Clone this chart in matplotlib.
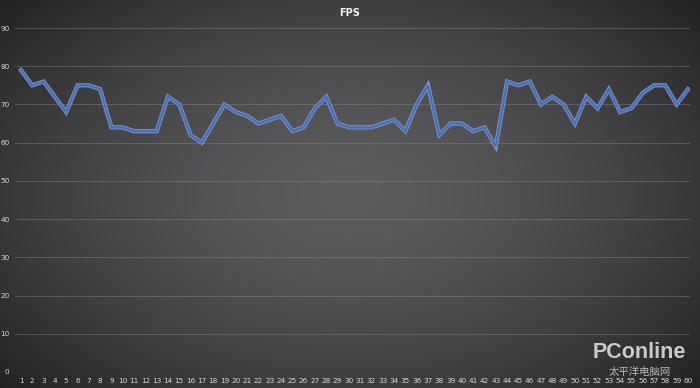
import numpy as np
import matplotlib.pyplot as plt
import matplotlib.patheffects as pe

# Données FPS relevées sur 60 secondes
seconds = list(range(1, 61))
fps = [79, 75, 76, 72, 68, 75, 75, 74, 64, 64,
       63, 63, 63, 72, 70, 62, 60, 65, 70, 68,
       67, 65, 66, 67, 63, 64, 69, 72, 65, 64,
       64, 64, 65, 66, 63, 70, 75, 62, 65, 65,
       63, 64, 59, 76, 75, 76, 70, 72, 70, 65,
       72, 69, 74, 68, 69, 73, 75, 75, 70, 74]
y_ticks = list(range(0, 100, 10))

plt.rcParams['font.family'] = ['DejaVu Sans', 'Noto Sans CJK SC']

fig = plt.figure(figsize=(7, 3.88), dpi=100)

# fond dégradé radial (plus clair au centre)
bg = fig.add_axes([0, 0, 1, 1])
gx, gy = np.meshgrid(np.linspace(-1, 1, 700), np.linspace(-1, 1, 388))
r = np.sqrt((gx * 0.95) ** 2 + (gy * 0.85) ** 2)
shade = 0.365 - 0.16 * np.clip(r, 0, 1.3) ** 1.5
bg.imshow(np.dstack([shade, shade, shade * 1.02]), aspect='auto', extent=[0, 1, 0, 1])
bg.set_axis_off()

ax = fig.add_axes([15 / 700, 1 - 372 / 388, 675 / 700, 344 / 388])
ax.patch.set_alpha(0)
ax.set_xlim(0.47, 60.18)
ax.set_ylim(0, 90)

for v in y_ticks:
    ax.axhline(v, color='#909090', lw=0.6, alpha=0.45, zorder=1)

ax.plot(seconds, fps, color='#4a6fb5', lw=1.8, solid_joinstyle='miter', zorder=3,
        path_effects=[pe.Stroke(linewidth=3.0, foreground='#7d9ad0'), pe.Normal()])

ax.set_xticks(seconds)
ax.set_xticklabels([str(s) for s in seconds])
ax.set_yticks(y_ticks)
ax.tick_params(axis='both', length=0, labelsize=5.2, colors='#d8d8d8')
ax.tick_params(axis='y', pad=4)
ax.tick_params(axis='x', pad=4)
for s in ax.spines.values():
    s.set_visible(False)

fig.text(0.5, 1 - 13 / 388, 'FPS', ha='center', va='center', color='#f2f2f2',
         fontsize=7, fontweight='bold')

# filigrane
fig.text(639 / 700, 1 - 353 / 388, 'PConline', ha='center', va='center',
         color='#dcdcdc', fontsize=15.5, fontweight='bold', alpha=0.9,
         family=['Liberation Sans'])
fig.text(640 / 700, 1 - 372 / 388, '太平洋电脑网', ha='center', va='center',
         color='#d0d0d0', fontsize=7.5, alpha=0.85, family=['Noto Sans CJK SC'])

fig.savefig('out.png', dpi=100)
